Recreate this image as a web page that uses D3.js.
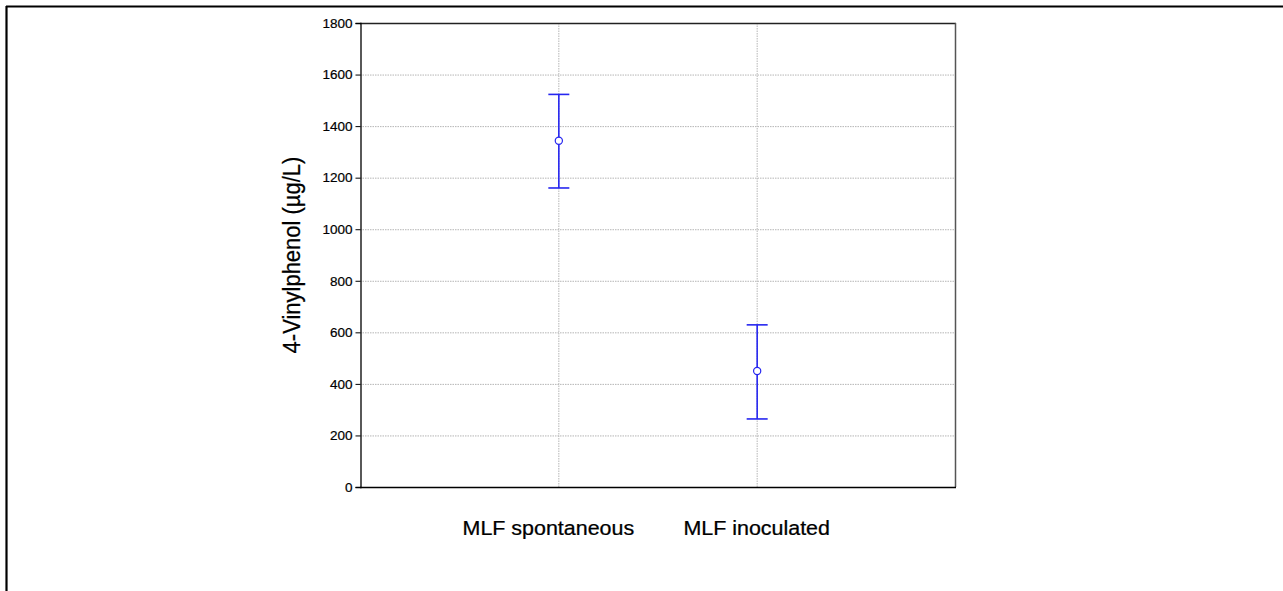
<!DOCTYPE html>
<html>
<head>
<meta charset="utf-8">
<script src="https://cdn.jsdelivr.net/npm/d3@7"></script>
<style>
  html, body { margin: 0; padding: 0; background: #fff; }
  svg { display: block; font-family: "Liberation Sans", Arial, sans-serif; }
</style>
</head>
<body>
<svg id="chart" width="1283" height="591"></svg>
<script>
// Group means with 95% confidence limits, 4-vinylphenol (µg/L)
const categories = ["MLF spontaneous", "MLF inoculated"];
const means = [1343, 450];
const upper = [1523, 629];
const lower = [1160, 264];
const yTicks = [0, 200, 400, 600, 800, 1000, 1200, 1400, 1600, 1800];
const yLabel = "4-Vinylphenol (µg/L)";

const svg = d3.select("#chart");
const W = 1283, H = 591;

// outer page frame (top and left edges)
svg.append("line").attr("x1", 6).attr("x2", W).attr("y1", 6.5).attr("y2", 6.5)
  .attr("stroke", "#000").attr("stroke-width", 2.2);
svg.append("line").attr("x1", 6.5).attr("x2", 6.5).attr("y1", 6).attr("y2", H)
  .attr("stroke", "#000").attr("stroke-width", 2.2);

const plot = { left: 360, right: 955, top: 23, bottom: 487 };

const x = d3.scalePoint().domain(categories)
  .range([plot.left, plot.right]).padding(1);
const y = d3.scaleLinear().domain([0, 1800]).range([plot.bottom, plot.top]);

// grid
const grid = svg.append("g");
grid.selectAll("line.h").data(yTicks.filter(d => d > 0 && d < 1800)).join("line")
  .attr("class", "h")
  .attr("x1", plot.left).attr("x2", plot.right)
  .attr("y1", d => y(d) + 0.5).attr("y2", d => y(d) + 0.5)
  .attr("stroke", "#b5b5b5").attr("stroke-width", 1).attr("stroke-dasharray", "1.5,1");
grid.selectAll("line.v").data(categories).join("line")
  .attr("class", "v")
  .attr("x1", d => x(d) + 0.5).attr("x2", d => x(d) + 0.5)
  .attr("y1", plot.top).attr("y2", plot.bottom)
  .attr("stroke", "#b5b5b5").attr("stroke-width", 1).attr("stroke-dasharray", "1.5,1");

// plot frame
svg.append("line").attr("x1", plot.left).attr("x2", plot.right + 1)
  .attr("y1", plot.top + 0.5).attr("y2", plot.top + 0.5).attr("stroke", "#222").attr("stroke-width", 1.3);
svg.append("line").attr("x1", plot.right + 0.5).attr("x2", plot.right + 0.5)
  .attr("y1", plot.top).attr("y2", plot.bottom).attr("stroke", "#555").attr("stroke-width", 1.5);

// y axis
const yAxis = d3.axisLeft(y).tickValues(yTicks).tickSize(5).tickPadding(3).tickFormat(d3.format("d"));
const gy = svg.append("g").attr("transform", `translate(${plot.left + 0.5},0)`).call(yAxis);
gy.select(".domain").attr("stroke", "#000").attr("stroke-width", 1.3);
gy.selectAll(".tick line").attr("stroke", "#000").attr("stroke-width", 1);
gy.selectAll(".tick text").attr("font-size", "13.5px").attr("fill", "#000")
  .attr("stroke", "#000").attr("stroke-width", 0.2)
  .attr("font-family", "'Liberation Sans', Arial, sans-serif");

// x axis baseline
svg.append("line").attr("x1", plot.left).attr("x2", plot.right + 1)
  .attr("y1", plot.bottom + 0.5).attr("y2", plot.bottom + 0.5).attr("stroke", "#000").attr("stroke-width", 1.5);

// category labels, set slightly wide
const labelShift = [-10, 0];
svg.selectAll("text.cat").data(categories).join("text")
  .attr("class", "cat")
  .attr("transform", (d, i) => `translate(${x(d) + labelShift[i]},535) scale(1.1,1)`)
  .attr("text-anchor", "middle")
  .attr("font-size", "19.5px")
  .attr("fill", "#000")
  .attr("stroke", "#000").attr("stroke-width", 0.25)
  .text(d => d);

// y axis title
svg.append("text")
  .attr("transform", `translate(300,${(plot.top + plot.bottom) / 2}) rotate(-90) scale(1,1.1)`)
  .attr("text-anchor", "middle")
  .attr("font-size", "22px")
  .attr("fill", "#000")
  .attr("stroke", "#000").attr("stroke-width", 0.25)
  .text(yLabel);

// error bars
const blue = "#2626f0";
const bars = svg.append("g");
const data = categories.map((c, i) => ({ c, m: means[i], hi: upper[i], lo: lower[i] }));
bars.selectAll("line.stem").data(data).join("line")
  .attr("class", "stem")
  .attr("x1", d => x(d.c) + 0.5).attr("x2", d => x(d.c) + 0.5)
  .attr("y1", d => y(d.hi)).attr("y2", d => y(d.lo))
  .attr("stroke", blue).attr("stroke-width", 1.6);
["hi", "lo"].forEach(k => {
  bars.selectAll("line.cap-" + k).data(data).join("line")
    .attr("class", "cap-" + k)
    .attr("x1", d => x(d.c) - 10).attr("x2", d => x(d.c) + 11)
    .attr("y1", d => y(d[k])).attr("y2", d => y(d[k]))
    .attr("stroke", blue).attr("stroke-width", 1.6);
});
bars.selectAll("circle").data(data).join("circle")
  .attr("cx", d => x(d.c) + 0.5).attr("cy", d => y(d.m))
  .attr("r", 3.6)
  .attr("fill", "#fff").attr("stroke", blue).attr("stroke-width", 1.2);
</script>
</body>
</html>
